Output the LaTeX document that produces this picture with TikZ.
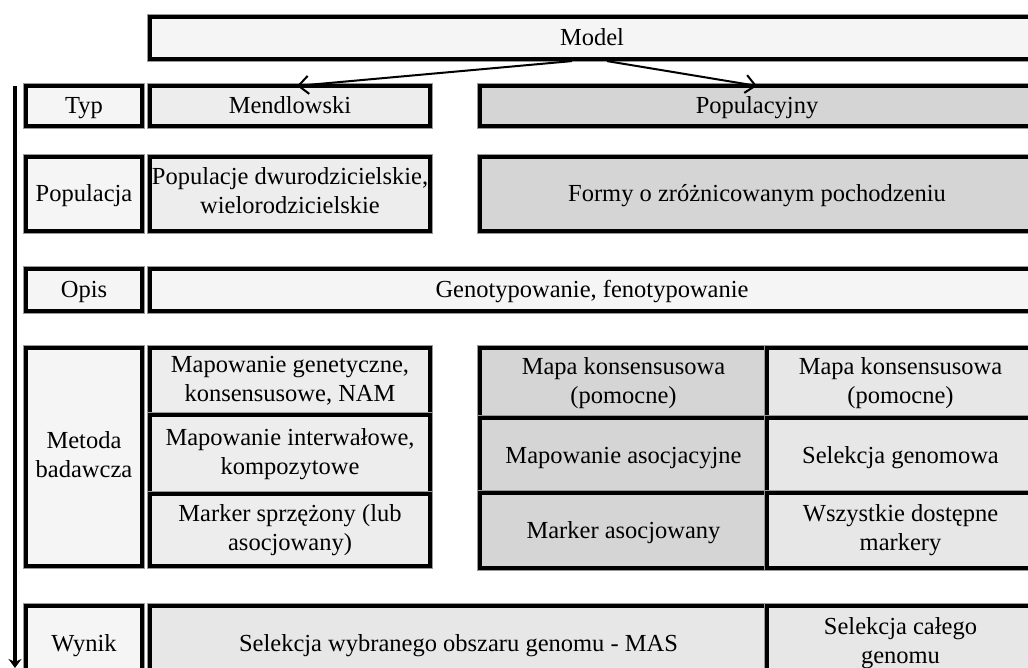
\documentclass[tikz,border=0pt]{standalone}
\usepackage{fontspec}
\setmainfont{Liberation Serif}
\usetikzlibrary{arrows.meta}
\definecolor{cLab}{HTML}{F5F5F5}
\definecolor{cMen}{HTML}{EDEDED}
\definecolor{cPop}{HTML}{D5D5D5}
\definecolor{cRgt}{HTML}{E7E7E7}
\newcommand\cellbox[7]{\node[cell,#6,minimum width={(#4)-(#2)},minimum height={(#5)-(#3)}] (#1) at ({((#2)+(#4))/2},{((#3)+(#5))/2}) {#7};}
\begin{document}
\begin{tikzpicture}[x=1pt,y=-1pt,
  cell/.style={draw=black, line width=4.2pt, align=center, inner sep=0pt,
    font=\fontsize{24.5}{29}\selectfont,
    execute at begin node={\rule{0pt}{22pt}},
    execute at end node={\rule[-6pt]{0pt}{6pt}},
    preaction={draw=black!40, line width=5.8pt}},
  lab/.style={fill=cLab},
  men/.style={fill=cMen},
  popc/.style={fill=cPop},
  rgt/.style={fill=cRgt},
  modarrow/.style={line width=2pt, -{Straight Barb[length=10pt,width=18pt,line width=2pt]}},
  axis/.style={line width=4pt, -{Stealth[length=9pt,width=13pt]}}]
\useasboundingbox (0,0) rectangle (1028,668);
\fill[white] (0,0) rectangle (1028,668);
\clip (0,0) rectangle (1028,668);
% top
\cellbox{model}{150}{17}{1034}{59}{lab}{Model}
% Typ row
\cellbox{typ}{26}{86}{142}{126}{lab}{Typ}
\cellbox{mend}{150}{86}{430}{126}{men}{Mendlowski}
\cellbox{pop}{480}{86}{1034}{126}{popc}{Populacyjny}
% Populacja row
\cellbox{popl}{26}{157}{142}{231}{lab}{Populacja}
\cellbox{popm}{150}{157}{430}{231}{men}{Populacje dwurodzicielskie,\\wielorodzicielskie}
\cellbox{popp}{480}{157}{1034}{231}{popc}{Formy o zróżnicowanym pochodzeniu}
% Opis row
\cellbox{opis}{26}{269}{142}{311}{lab}{Opis}
\cellbox{geno}{150}{269}{1034}{311}{lab}{Genotypowanie, fenotypowanie}
% Metoda row
\cellbox{met}{26}{348}{142}{566}{lab}{Metoda\\badawcza}
\cellbox{m1}{150}{348}{430}{415}{men}{Mapowanie genetyczne,\\konsensusowe, NAM}
\cellbox{m2}{150}{415}{430}{494}{men}{Mapowanie interwałowe,\\kompozytowe}
\cellbox{m3}{150}{494}{430}{566}{men}{Marker sprzężony (lub\\asocjowany)}
\cellbox{p1}{480}{348}{767}{418}{popc}{Mapa konsensusowa\\(pomocne)}
\cellbox{p2}{480}{418}{767}{493}{popc}{Mapowanie asocjacyjne}
\cellbox{p3}{480}{493}{767}{568}{popc}{Marker asocjowany}
\cellbox{r1}{767}{348}{1034}{418}{rgt}{Mapa konsensusowa\\(pomocne)}
\cellbox{r2}{767}{418}{1034}{493}{rgt}{Selekcja genomowa}
\cellbox{r3}{767}{493}{1034}{568}{rgt}{Wszystkie dostępne\\markery}
% Wynik row
\cellbox{wyn}{26}{606}{142}{680}{lab}{Wynik}
\cellbox{w1}{150}{606}{767}{680}{rgt}{Selekcja wybranego obszaru genomu - MAS}
\cellbox{w2}{767}{606}{1034}{680}{rgt}{Selekcja całego\\genomu}
% arrows from model
\draw[modarrow] ([xshift=-20pt]model.south) -- ([xshift=7pt,yshift=-2pt]mend.north);
\draw[modarrow] ([xshift=15pt]model.south) -- ([yshift=-2pt]pop.north);
% left axis
\coordinate (axtop) at (15,86);
\coordinate (axend) at (15,668);
\draw[axis] (axtop) -- (axend);
\end{tikzpicture}
\end{document}
